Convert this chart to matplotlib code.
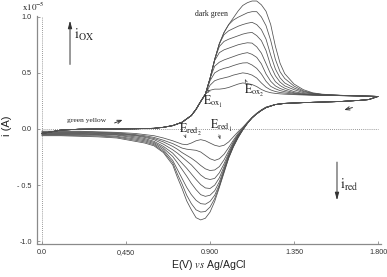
import matplotlib
matplotlib.use("Agg")
import matplotlib.pyplot as plt

plt.rcParams['mathtext.fontset'] = 'stix'

# ---------------- data (current in units of 1e-5 A) ----------------
E_fwd_common = [0.0, 0.1, 0.2, 0.3, 0.4, 0.5, 0.6, 0.65, 0.7, 0.75, 0.8, 0.825, 0.85]
i_fwd_common = [-0.04, -0.01, -0.002, 0.0, 0.0, 0.002, 0.006, 0.015, 0.03, 0.06, 0.12, 0.175, 0.245]

E_fwd_tail = [0.875, 0.9, 0.925, 0.95, 0.975, 1.0, 1.025, 1.05, 1.075, 1.1, 1.125, 1.15,
              1.175, 1.2, 1.225, 1.25, 1.275, 1.3, 1.35, 1.4, 1.45, 1.5, 1.6, 1.7, 1.8]

fwd_1 = [0.31, 0.345, 0.355, 0.355, 0.36, 0.37, 0.385, 0.40, 0.41, 0.405, 0.396, 0.378, 0.352, 0.334, 0.323, 0.317, 0.313, 0.31, 0.306, 0.303, 0.301, 0.30, 0.297, 0.294, 0.29]
fwd_2 = [0.31, 0.39, 0.43, 0.445, 0.455, 0.465, 0.48, 0.49, 0.50, 0.494, 0.48, 0.454, 0.41, 0.372, 0.348, 0.334, 0.325, 0.32, 0.311, 0.306, 0.303, 0.301, 0.297, 0.294, 0.29]
fwd_3 = [0.31, 0.43, 0.50, 0.525, 0.54, 0.55, 0.565, 0.578, 0.588, 0.59, 0.57, 0.54, 0.49, 0.425, 0.38, 0.358, 0.342, 0.332, 0.317, 0.308, 0.303, 0.301, 0.297, 0.294, 0.29]
fwd_4 = [0.31, 0.45, 0.56, 0.595, 0.615, 0.63, 0.645, 0.66, 0.672, 0.68, 0.665, 0.638, 0.58, 0.49, 0.425, 0.384, 0.361, 0.346, 0.323, 0.311, 0.305, 0.302, 0.298, 0.294, 0.29]
fwd_5 = [0.31, 0.45, 0.61, 0.68, 0.705, 0.72, 0.735, 0.75, 0.76, 0.768, 0.765, 0.732, 0.676, 0.582, 0.488, 0.422, 0.387, 0.363, 0.333, 0.316, 0.307, 0.303, 0.298, 0.294, 0.29]
fwd_6 = [0.31, 0.45, 0.62, 0.735, 0.78, 0.80, 0.815, 0.83, 0.845, 0.855, 0.86, 0.832, 0.787, 0.698, 0.563, 0.474, 0.418, 0.384, 0.35, 0.324, 0.312, 0.305, 0.299, 0.295, 0.29]
fwd_7 = [0.31, 0.45, 0.62, 0.76, 0.84, 0.875, 0.895, 0.915, 0.93, 0.942, 0.95, 0.93, 0.885, 0.80, 0.658, 0.534, 0.456, 0.41, 0.365, 0.333, 0.316, 0.307, 0.299, 0.295, 0.29]
fwd_8 = [0.31, 0.45, 0.62, 0.76, 0.86, 0.93, 0.97, 0.995, 1.015, 1.035, 1.045, 1.045, 0.998, 0.92, 0.788, 0.62, 0.51, 0.45, 0.382, 0.34, 0.318, 0.308, 0.30, 0.295, 0.29]
fwd_9 = [0.31, 0.45, 0.62, 0.76, 0.86, 0.93, 0.99, 1.05, 1.10, 1.125, 1.14, 1.14, 1.106, 1.048, 0.93, 0.737, 0.586, 0.493, 0.40, 0.35, 0.322, 0.31, 0.30, 0.295, 0.29]

E_rev_common = [1.8, 1.75, 1.7, 1.6, 1.5, 1.4, 1.3, 1.25]
i_rev_common = [0.29, 0.262, 0.255, 0.245, 0.24, 0.235, 0.228, 0.218]

E_rev_tail = [1.2, 1.175, 1.15, 1.125, 1.1, 1.075, 1.05, 1.025, 1.0, 0.975, 0.95, 0.925, 0.9,
              0.875, 0.85, 0.825, 0.8, 0.775, 0.75, 0.725, 0.7, 0.65, 0.6, 0.55, 0.5, 0.4,
              0.3, 0.2, 0.1, 0.0]

rev_1 = [0.19, 0.165, 0.135, 0.10, 0.06, 0.015, -0.025, -0.07, -0.115, -0.145, -0.155, -0.145, -0.125, -0.105, -0.095, -0.105, -0.125, -0.14, -0.135, -0.12, -0.105, -0.08, -0.06, -0.05, -0.04, -0.03, -0.025, -0.02, -0.02, -0.02]
rev_2 = [0.19, 0.165, 0.135, 0.10, 0.057, 0.005, -0.04, -0.10, -0.165, -0.225, -0.265, -0.28, -0.265, -0.235, -0.205, -0.19, -0.185, -0.18, -0.17, -0.15, -0.13, -0.10, -0.075, -0.06, -0.05, -0.035, -0.03, -0.025, -0.025, -0.025]
rev_3 = [0.19, 0.165, 0.135, 0.10, 0.055, 0.0, -0.05, -0.115, -0.195, -0.275, -0.335, -0.365, -0.37, -0.355, -0.325, -0.29, -0.26, -0.235, -0.21, -0.18, -0.155, -0.115, -0.085, -0.068, -0.055, -0.04, -0.035, -0.03, -0.03, -0.03]
rev_4 = [0.19, 0.165, 0.135, 0.10, 0.053, -0.003, -0.057, -0.127, -0.215, -0.31, -0.39, -0.44, -0.45, -0.44, -0.41, -0.365, -0.32, -0.285, -0.25, -0.215, -0.185, -0.135, -0.095, -0.075, -0.06, -0.045, -0.04, -0.035, -0.035, -0.035]
rev_5 = [0.19, 0.166, 0.136, 0.10, 0.052, -0.005, -0.063, -0.137, -0.23, -0.335, -0.435, -0.50, -0.53, -0.525, -0.495, -0.45, -0.40, -0.35, -0.305, -0.26, -0.215, -0.155, -0.11, -0.085, -0.07, -0.05, -0.045, -0.04, -0.04, -0.04]
rev_6 = [0.191, 0.167, 0.137, 0.10, 0.051, -0.007, -0.068, -0.145, -0.24, -0.355, -0.47, -0.55, -0.59, -0.60, -0.585, -0.54, -0.485, -0.42, -0.36, -0.30, -0.245, -0.17, -0.12, -0.095, -0.08, -0.055, -0.05, -0.045, -0.045, -0.045]
rev_7 = [0.192, 0.168, 0.138, 0.10, 0.051, -0.008, -0.072, -0.152, -0.25, -0.37, -0.495, -0.59, -0.645, -0.67, -0.665, -0.635, -0.585, -0.52, -0.44, -0.36, -0.28, -0.185, -0.13, -0.105, -0.09, -0.065, -0.055, -0.05, -0.05, -0.05]
rev_8 = [0.194, 0.169, 0.139, 0.10, 0.05, -0.009, -0.076, -0.157, -0.255, -0.38, -0.51, -0.62, -0.695, -0.735, -0.74, -0.72, -0.665, -0.59, -0.49, -0.40, -0.30, -0.20, -0.14, -0.115, -0.10, -0.072, -0.062, -0.058, -0.055, -0.055]
rev_9 = [0.195, 0.17, 0.14, 0.10, 0.05, -0.01, -0.08, -0.16, -0.26, -0.39, -0.52, -0.645, -0.74, -0.795, -0.81, -0.79, -0.72, -0.64, -0.53, -0.43, -0.32, -0.21, -0.15, -0.125, -0.11, -0.08, -0.07, -0.065, -0.06, -0.06]

x_ticks = [0.0, 0.45, 0.9, 1.35, 1.8]
x_tick_labels = ["0.0", "0,450", "0.900", "1.350", "1.800"]
y_ticks = [1.0, 0.5, 0.0, -0.5, -1.0]
y_tick_labels = ["1.0", "0.5", "0.0", "- 0.5", "-1.0"]

fwd_tails = [fwd_1, fwd_2, fwd_3, fwd_4, fwd_5, fwd_6, fwd_7, fwd_8, fwd_9]
rev_tails = [rev_1, rev_2, rev_3, rev_4, rev_5, rev_6, rev_7, rev_8, rev_9]

# ---------------- figure ----------------
W, H = 387, 277
fig = plt.figure(figsize=(W / 100, H / 100), dpi=100)
ax = fig.add_axes([37.3 / W, 1 - 243.5 / H, (381 - 37.3) / W, (243.5 - 15.6) / H])
ax.set_xlim(-0.0252, 1.8157)
ax.set_ylim(-1.02, 1.01)

for ft, rt in zip(fwd_tails, rev_tails):
    E = E_fwd_common + E_fwd_tail + E_rev_common + E_rev_tail
    I = i_fwd_common + ft + i_rev_common + rt
    ax.plot(E, I, color='#505050', lw=0.55, clip_on=False, zorder=3)

# dotted reference lines
ax.plot([0, 0], [-1.02, 1.01], ls=(0, (1, 1.5)), color='#777777', lw=0.6, zorder=1)
ax.plot([0, 1.8], [0, 0], ls=(0, (1, 1.5)), color='#777777', lw=0.6, zorder=1)

for s in ['top', 'right']:
    ax.spines[s].set_visible(False)
for s in ['left', 'bottom']:
    ax.spines[s].set_color('#8a8a8a')
    ax.spines[s].set_linewidth(0.9)

sans = ['Liberation Sans', 'DejaVu Sans']
serif = ['Liberation Serif', 'DejaVu Serif']
ax.set_xticks(x_ticks)
ax.set_xticklabels(x_tick_labels, fontsize=5.2, family=sans, color='#333333')
ax.set_yticks(y_ticks)
ax.set_yticklabels(y_tick_labels, fontsize=5.2, family=sans, color='#333333')
ax.tick_params(direction='in', length=2, width=0.6, color='#8a8a8a', pad=4)

fig.text(209 / W, 1 - 265 / H, r'E(V) $\it{vs}$ Ag/AgCl', ha='center', va='center',
         fontsize=7.6, family=sans, color='#222222')
fig.text(7 / W, 1 - 126 / H, 'i (A)', ha='center', va='center', rotation=90,
         fontsize=8, family=sans, color='#222222')
fig.text(33 / W, 1 - 7 / H, r'$\mathrm{x10^{-5}}$', ha='center', va='center',
         fontsize=6.5, color='#222222')

# annotations
big_arrow = dict(arrowstyle='-|>,head_length=0.45,head_width=0.12', color='#333333', lw=0.7)
ax.annotate('', xy=(0.15, 0.99), xytext=(0.15, 0.55), arrowprops=big_arrow,
            annotation_clip=False)
ax.text(0.172, 0.84, r'$\mathrm{i_{OX}}$', fontsize=10, va='center', ha='left', color='#222222')
ax.annotate('', xy=(1.58, -0.66), xytext=(1.58, -0.27), arrowprops=big_arrow)
ax.text(1.595, -0.50, r'$\mathrm{i_{red}}$', fontsize=10, va='center', ha='left', color='#222222')

ax.text(0.905, 1.025, 'dark green', fontsize=5.6, family=serif, ha='center', va='center',
        color='#222222')
ax.text(0.241, 0.08, 'green yellow', fontsize=5.4, family=serif, ha='center', va='center',
        color='#222222')
small_arrow = dict(arrowstyle='->,head_length=0.3,head_width=0.12', color='#333333', lw=0.7)
ax.annotate('', xy=(0.445, 0.09), xytext=(0.375, 0.045), arrowprops=small_arrow)
ax.annotate('', xy=(1.605, 0.163), xytext=(1.677, 0.198), arrowprops=small_arrow)

lab_fs = 8.5
ax.text(0.918, 0.245, r'$\mathrm{E_{ox_1}}$', fontsize=lab_fs, ha='center', va='center', color='#222222')
ax.text(1.138, 0.335, r'$\mathrm{E_{ox_2}}$', fontsize=lab_fs, ha='center', va='center', color='#222222')
ax.text(0.795, -0.005, r'$\mathrm{E_{red_2}}$', fontsize=lab_fs, ha='center', va='center', color='#222222')
ax.text(0.961, 0.027, r'$\mathrm{E_{red_1}}$', fontsize=lab_fs, ha='center', va='center', color='#222222')
tiny = dict(arrowstyle='->,head_length=0.2,head_width=0.08', color='#444444', lw=0.45)
ax.annotate('', xy=(0.884, 0.356), xytext=(0.90, 0.32), arrowprops=tiny)
ax.annotate('', xy=(1.087, 0.445), xytext=(1.098, 0.40), arrowprops=tiny)
ax.annotate('', xy=(0.777, -0.107), xytext=(0.761, -0.036), arrowprops=tiny)
ax.annotate('', xy=(0.959, -0.116), xytext=(0.943, -0.027), arrowprops=tiny)

fig.savefig('out.png', dpi=100, facecolor='white')
